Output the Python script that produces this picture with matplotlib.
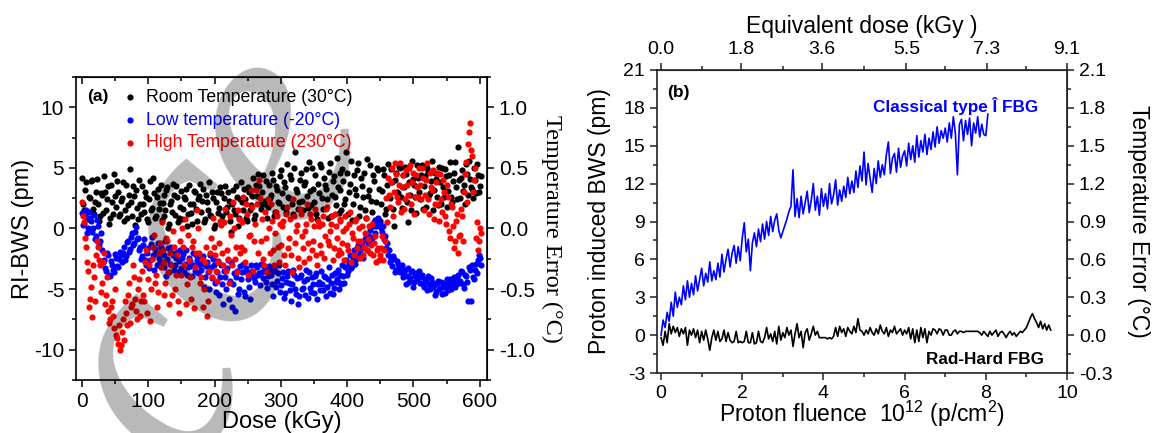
import numpy as np
import matplotlib
matplotlib.use("Agg")
import matplotlib.pyplot as plt
from matplotlib.ticker import MultipleLocator, FixedLocator, FormatStrFormatter

plt.rcParams['font.family'] = ['Liberation Sans', 'DejaVu Sans']
plt.rcParams['axes.unicode_minus'] = False
plt.rcParams['mathtext.fontset'] = 'custom'
plt.rcParams['mathtext.rm'] = 'Liberation Sans'
plt.rcParams['mathtext.it'] = 'Liberation Sans:italic'

# ---- panel (a): RI-BWS vs dose, two interleaved read-outs every 3 kGy ----
dose_step = 3
room_bws = [
    4.2, 1.5, 3.8, 0.8, 2.5, 4.0, 1.2, 3.0, 2.0, 1.0,
    2.8, 4.3, 1.5, 3.5, 0.9, 2.2, 4.5, 1.8, 3.0, 1.2,
    2.5, 0.6, 3.6, 1.9, 4.9, 1.0, 2.7, 3.2, 0.8, 2.0,
    3.5, 1.4, 2.6, 0.5, 3.9, 1.7, 2.9, 1.0, 3.3, 2.1,
    0.7, 2.8, 1.5, 3.4, 0.4, 2.3, 3.7, 1.1, 2.6, 0.9,
    3.1, 1.6, 2.4, 0.2, 3.6, 1.3, 2.0, 3.0, 0.6, 2.7,
    1.4, 3.3, 0.8, 2.2, 3.8, 1.0, 2.5, 0.3, 3.0, 1.7,
    2.9, 0.5, 3.5, 1.8, 2.3, -0.3, 3.2, 1.2, 2.6, 0.9,
    3.8, 1.5, 2.4, 0.6, 3.0, 1.9, 4.2, 1.1, 2.7, 3.5,
    1.6, 4.4, 2.3, 0.9, 3.6, 2.8, 4.0, 1.4, 3.2, 2.1,
    4.8, 1.8, 3.4, 5.3, 2.5, 4.1, 1.2, 6.3, 3.0, 2.2,
    4.6, 1.5, 3.8, 2.7, 5.5, 1.9, 3.3, 4.4, 0.8, 2.9,
    5.1, 1.6, 3.6, 2.4, 4.7, 1.0, 3.9, 2.6, 5.8, 1.3,
    3.2, 4.9, 2.0, 6.3, 1.2, 3.7, 0.7, 4.4, 2.8, 5.4,
    1.8, 3.5, 4.6, 0.9, 2.7, 5.2, 1.4, 3.9, 2.2, 4.8,
    0.6, 3.1, 4.4, 1.6, 5.3, 2.5, 3.8, 0.2, 4.6, 2.9,
    5.0, 1.7, 3.4, 4.5, 0.5, 2.8, 5.6, 3.6, 1.3, 4.2,
    2.4, 5.2, 3.5, 1.8, 4.7, 2.9, 5.6, 3.2, 4.1, 1.9,
    3.8, 5.0, 2.6, 4.3, 3.1, 5.5, 2.2, 4.6, 3.4, 6.7,
    2.5, 4.8, 3.6, 5.3, 2.8, 4.1, 3.3, 5.0, 2.9, 4.4,
    3.5]
room_bws_b = [
    2.0, 3.2, 0.9, 2.6, 3.9, 1.6, 2.2, 4.1, 0.6, 2.9,
    1.3, 3.0, 2.4, 0.4, 3.6, 1.2, 2.7, 3.9, 1.0, 2.3,
    3.8, 1.5, 0.9, 2.8, 2.2, 3.5, 0.3, 1.7, 4.0, 1.2,
    2.0, 3.0, 0.8, 2.4, 1.5, 4.2, 0.9, 2.6, 1.6, 3.6,
    2.1, 1.0, 3.2, 0.0, 2.0, 1.4, 2.8, 3.5, 0.5, 1.8,
    0.8, 2.6, 3.3, 1.2, 2.0, 0.4, 3.1, 1.6, 2.4, 3.7,
    2.3, 0.5, 2.8, 1.5, 1.1, 3.0, 0.0, 2.2, 1.3, 3.4,
    1.0, 2.5, 1.4, 3.0, 0.6, 2.0, 1.5, 3.5, 0.2, 2.4,
    2.2, 3.3, 0.9, 3.4, 1.5, 2.7, 0.8, 3.6, 4.5, 2.0,
    3.0, 2.0, 3.9, 1.8, 2.5, 4.6, 1.0, 3.5, 2.2, 4.3,
    2.9, 3.8, 1.4, 2.6, 4.4, 2.0, 5.0, 3.3, 1.6, 4.0,
    2.3, 3.6, 4.9, 1.7, 3.1, 5.0, 2.2, 1.2, 3.7, 5.3,
    2.5, 4.2, 3.3, 0.9, 5.4, 2.8, 4.3, 1.9, 3.4, 4.6,
    1.5, 3.9, 2.4, 4.6, 3.0, 5.6, 2.0, 3.3, 4.8, 1.0,
    4.2, 2.6, 1.5, 5.7, 3.2, 2.3, 4.4, 0.7, 5.0, 3.3,
    2.0, 4.9, 1.2, 3.6, 2.6, 4.9, 1.6, 4.0, 3.0, 5.1,
    2.6, 4.4, 5.1, 2.2, 3.8, 1.5, 4.1, 2.6, 5.2, 3.0,
    4.4, 1.6, 4.3, 5.0, 2.8, 3.9, 1.5, 4.6, 2.6, 5.1,
    2.0, 3.4, 4.9, 1.8, 4.4, 2.6, 3.9, 5.5, 2.4, 4.0,
    4.2, 3.1, 2.0, 4.5, 5.6, 3.4, 2.5, 4.0, 5.3, 3.0,
    4.3]
low_bws = [
    1.3, 0.4, 1.5, 0.0, 0.9, -0.3, 1.1, -0.6, 0.2, -1.0,
    -1.8, -2.6, -3.5, -2.2, -3.9, -3.0, -3.6, -2.4, -3.2, -1.9,
    -2.8, -1.5, -2.3, -1.0, -1.7, -0.4, -1.2, 0.1, -0.8, -1.5,
    -2.3, -0.9, -3.0, -1.6, -2.6, -0.7, -3.4, -2.0, -1.2, -2.8,
    -1.8, -3.2, -1.0, -2.5, -3.6, -1.5, -2.2, -3.0, -1.9, -2.7,
    -3.3, -2.1, -2.9, -3.8, -2.4, -3.1, -2.0, -3.5, -2.6, -3.0,
    -3.4, -2.3, -4.0, -2.8, -5.0, -3.2, -2.5, -4.5, -3.6, -5.5,
    -3.0, -6.2, -4.0, -3.3, -5.8, -2.8, -4.6, -6.8, -3.5, -5.0,
    -4.2, -2.9, -5.6, -3.6, -4.8, -3.0, -3.8, -4.4, -3.2, -3.7,
    -2.9, -4.1, -3.4, -4.9, -3.1, -3.8, -5.6, -3.5, -4.3, -3.0,
    -4.7, -3.6, -5.3, -3.9, -4.5, -6.0, -3.4, -5.0, -4.1, -5.6,
    -3.8, -4.9, -5.5, -4.2, -3.6, -5.2, -4.6, -3.9, -5.8, -4.4,
    -3.5, -5.1, -4.0, -4.8, -3.2, -4.5, -5.4, -3.7, -4.2, -5.0,
    -3.8, -3.0, -4.5, -2.6, -3.5, -2.2, -3.1, -1.8, -2.5, -1.4,
    -2.0, -1.1, -1.6, -0.5, -1.2, -0.1, -0.8, 0.5, 0.2, 0.9,
    0.4, -0.3, -0.9, -1.6, -2.2, -2.8, -3.1, -2.5, -3.4, -2.9,
    -3.6, -3.0, -3.8, -4.6, -3.3, -4.1, -3.5, -4.4, -3.7, -4.0,
    -4.5, -3.8, -4.8, -4.2, -3.9, -5.0, -4.4, -4.7, -5.2, -4.3,
    -4.9, -5.4, -4.5, -4.8, -5.1, -4.2, -4.7, -4.0, -4.6, -3.8,
    -4.3, -3.6, -4.9, -3.9, -6.0, -3.4, -3.0, -4.2, -2.9, -2.6,
    -2.4]
low_bws_b = [
    0.3, 1.0, -0.4, 1.4, 0.6, 0.0, -0.9, 0.7, -1.4, -0.4,
    -2.8, -3.3, -2.0, -3.8, -2.7, -3.4, -2.1, -3.1, -2.5, -2.2,
    -2.0, -2.6, -1.1, -1.9, -0.7, -1.4, -0.3, -0.9, -1.8, -2.5,
    -1.4, -2.6, -2.0, -3.3, -1.3, -2.2, -1.7, -3.0, -2.4, -1.5,
    -2.8, -2.2, -3.9, -1.6, -2.9, -2.0, -3.4, -2.4, -3.6, -1.8,
    -2.4, -3.6, -1.8, -3.2, -2.7, -3.9, -3.0, -2.2, -3.7, -2.5,
    -2.9, -4.8, -3.1, -3.6, -2.2, -4.1, -3.0, -5.2, -2.7, -4.0,
    -4.6, -3.5, -5.0, -2.6, -4.3, -6.5, -3.7, -4.0, -5.4, -3.1,
    -3.6, -5.2, -3.3, -4.2, -5.8, -3.5, -4.1, -3.0, -3.8, -4.7,
    -3.6, -3.2, -4.4, -3.9, -3.4, -4.6, -3.2, -4.8, -3.7, -5.2,
    -4.1, -5.7, -4.4, -3.5, -5.1, -4.6, -3.8, -5.4, -6.2, -4.0,
    -5.0, -4.3, -3.4, -5.7, -4.9, -4.0, -5.3, -3.7, -4.6, -5.1,
    -4.6, -3.9, -5.6, -4.2, -5.3, -3.8, -4.9, -4.4, -3.4, -4.5,
    -4.6, -3.9, -3.2, -3.8, -2.9, -3.3, -2.4, -2.9, -1.6, -2.2,
    -1.5, -2.4, -0.9, -1.8, -0.6, -1.0, 0.2, -0.4, 0.8, 0.4,
    0.0, 0.2, -0.6, -1.2, -1.8, -2.5, -2.3, -3.6, -2.7, -3.2,
    -3.2, -4.0, -3.4, -3.9, -4.4, -3.6, -4.8, -3.9, -4.2, -3.5,
    -4.0, -4.6, -4.3, -5.1, -4.6, -4.1, -4.8, -5.5, -4.5, -5.0,
    -4.4, -4.8, -5.3, -4.2, -4.6, -5.0, -4.3, -4.8, -4.1, -4.5,
    -3.5, -4.6, -3.8, -4.4, -3.2, -6.0, -4.0, -3.4, -3.7, -2.2,
    -3.0]
high_bws = [
    2.2, 0.5, -1.5, -3.5, -5.8, -7.3, -4.0, -2.2, -1.5, -3.0,
    -4.5, -2.0, -5.5, -6.8, -7.5, -6.0, -8.2, -8.8, -9.5, -10.0,
    -8.5, -9.2, -7.0, -5.5, -7.8, -6.2, -4.0, -6.8, -5.0, -7.2,
    -3.5, -6.0, -1.8, -4.2, -7.6, -2.5, -0.5, -3.8, -5.2, -1.2,
    0.5, -2.8, -4.5, -1.0, -6.2, -3.0, -0.2, -5.0, -2.2, -7.0,
    -3.8, -1.5, 0.8, -4.6, -2.6, -5.8, -1.0, -3.2, 1.5, -2.0,
    -4.0, -6.5, -2.8, -7.2, -3.5, -0.8, 0.9, -2.2, -4.3, -1.2,
    0.3, -3.0, 1.6, -1.8, -4.5, -0.5, 2.2, -2.5, -3.6, 0.8,
    -1.5, 2.6, -2.8, 1.2, -0.6, 3.2, -3.5, 0.4, 2.0, 4.0,
    -1.0, -2.5, 1.4, -3.6, 0.0, 2.0, -1.8, -0.4, 1.0, -2.8,
    -1.4, 0.6, -3.0, 1.8, -0.8, -2.2, 2.4, -1.2, 0.3, -3.2,
    1.2, -1.6, -0.2, 2.0, -2.4, 0.8, -1.0, 1.6, -3.0, 0.2,
    -2.0, 1.0, -0.6, 1.8, -1.4, 0.4, -2.6, 1.2, -0.8, -1.8,
    0.6, -1.2, -2.6, 0.0, -1.8, 1.4, -0.4, -2.2, 0.8, -1.0,
    -2.4, 0.2, -1.5, 0.9, -0.9, -2.0, 0.4, -1.2, -2.8, -1.6,
    -2.2, -0.6, -1.8, 2.5, 4.2, 1.8, 5.0, 3.0, 4.5, 2.2,
    5.4, 3.4, 1.6, 4.8, 2.8, 5.2, 3.8, 1.2, 4.4, 2.6,
    3.6, 5.0, 1.5, 4.0, 2.4, 4.6, 3.2, 0.8, 3.8, 2.0,
    4.5, 1.4, 3.0, 0.4, 2.6, -0.8, 1.8, -1.6, 0.6, -2.0,
    -0.5, 1.0, 3.0, 5.5, 7.0, 8.7, 6.0, 4.0, -0.8, -1.8,
    0.0]
high_bws_b = [
    1.0, -0.8, -2.8, -6.5, -4.8, -3.0, -6.0, -1.0, -2.6, -5.2,
    -2.8, -6.2, -4.0, -7.8, -6.5, -7.2, -5.0, -9.0, -8.0, -9.6,
    -7.5, -6.0, -8.0, -4.5, -6.5, -3.0, -5.8, -7.5, -4.2, -6.0,
    -5.5, -2.8, -7.0, -3.0, -5.0, -1.5, -4.5, -6.5, -2.0, -3.2,
    -1.8, -5.5, -0.8, -3.6, -2.0, -5.5, -1.5, -3.8, -6.0, -1.0,
    0.0, -3.0, -6.2, -0.5, -4.0, -1.5, -6.6, -2.0, 0.0, -4.5,
    -2.5, -5.0, -1.5, -6.0, -2.0, -4.0, -1.5, -3.5, -2.8, 0.6,
    -2.0, 0.5, -3.5, -2.5, 1.0, -3.0, 0.0, -1.5, 1.5, -2.0,
    0.5, -1.8, 2.0, -3.8, -0.5, 1.8, -1.0, 3.2, -2.0, 2.5,
    0.8, -3.0, -0.8, 2.4, -2.0, 0.6, -3.0, 1.4, -1.5, 0.4,
    0.2, -2.2, 1.2, -1.6, 0.8, -3.6, 1.0, -0.2, -2.4, 1.6,
    -0.6, -2.8, 0.4, -1.2, 1.2, -1.8, 0.2, -2.2, 0.6, -1.4,
    0.4, -2.4, 1.6, -1.0, -0.2, 1.0, -1.6, 0.2, -2.2, 0.8,
    -2.0, -0.2, 1.0, -1.4, 0.4, -2.8, -0.8, 0.6, -1.6, 0.0,
    -1.0, -2.2, -0.4, -1.8, 0.2, -1.4, -2.2, -0.6, -1.8, -2.6,
    -1.6, -2.6, -1.0, 0.5, 2.8, 3.8, 1.0, 5.4, 2.6, 3.6,
    1.4, 4.4, 2.4, 3.6, 5.0, 2.0, 4.6, 2.6, 3.4, 5.0,
    2.4, 4.2, 2.8, 5.4, 1.2, 3.4, 4.8, 2.0, 4.6, 0.6,
    2.4, 4.0, 1.0, 3.6, -0.2, 2.0, 0.2, -1.0, 1.2, -0.6,
    1.6, -1.0, 4.5, 2.2, 8.0, 6.5, 3.0, 5.0, 0.5, -1.0,
    -0.4]
dose = np.arange(len(room_bws)) * dose_step
dose_b = dose + dose_step / 2

# ---- panel (b): proton induced BWS vs fluence (1e12 p/cm2), step 0.05 ----
fluence_step = 0.05
classical_bws = [
    0.0, 1.2, 0.6, 1.8, 1.1, 2.6, 1.5, 3.4, 2.2, 3.0,
    2.4, 3.9, 2.8, 4.3, 3.0, 4.1, 3.2, 4.7, 3.5, 4.4,
    5.3, 3.9, 4.9, 4.2, 5.8, 4.3, 5.1, 4.4, 5.7, 4.6,
    6.4, 5.0, 6.0, 6.8, 5.4, 6.5, 7.1, 5.7, 7.0, 5.9,
    7.7, 8.9, 6.6, 7.6, 5.1, 7.3, 8.1, 7.0, 8.4, 7.4,
    8.8, 7.6, 9.0, 7.9, 9.4, 8.2, 9.1, 9.6, 8.3, 7.7,
    8.2, 8.7, 9.2, 9.8, 10.2, 13.1, 9.4, 10.8, 9.3, 11.0,
    9.6, 10.5, 11.4, 9.7, 10.7, 12.0, 9.9, 11.0, 9.5, 11.6,
    10.2, 11.2, 10.0, 12.0, 10.4, 11.1, 12.3, 10.3, 11.5, 10.6,
    11.8, 10.9, 12.5, 11.2, 12.2, 11.3, 13.0, 11.7, 13.4, 12.2,
    14.5, 11.9, 13.6, 12.4, 11.3, 13.2, 12.0, 13.8, 12.5, 13.5,
    12.7, 14.3, 15.3, 12.8, 14.0, 14.4, 12.9, 14.8, 13.3, 14.2,
    14.6, 13.4, 15.2, 13.9, 15.0, 13.7, 15.8, 14.1, 15.4, 14.5,
    15.9, 14.3, 15.6, 14.7, 16.1, 14.9, 16.5, 15.2, 16.2, 15.6,
    16.4, 15.3, 16.8, 15.6, 17.3, 16.0, 12.7, 16.7, 17.1, 15.4,
    17.0, 15.9, 17.2, 15.0, 16.8, 16.0, 17.3, 15.7, 16.7, 15.9,
    15.8, 17.5]
radhard_bws = [
    -0.2, -0.8, 0.3, -0.6, 0.9, 0.1, 0.7, 0.2, 0.6, -0.1,
    0.5, 0.1, 0.6, -0.8, 0.4, 0.0, 0.5, -0.2, 0.4, -0.6,
    0.3, -0.4, 0.4, -0.3, -1.2, -0.2, 0.4, -0.4, 0.3, -0.5,
    -0.3, 0.4, -0.5, 0.2, -0.4, -0.6, -0.5, 0.3, -0.6, -0.5,
    -0.6, -0.5, 0.3, -0.6, -0.6, 0.2, -0.7, -0.6, 0.3, -0.5,
    -0.6, -0.2, 0.6, -0.3, 0.1, -0.5, 0.3, -0.7, 0.7, -0.4,
    0.2, -0.2, 0.6, 0.0, 0.4, -0.9, 0.1, 0.9, -0.2, 0.3,
    -1.0, 0.2, 0.5, -0.4, 0.1, 0.7, 0.0, 0.3, -0.2, -0.2,
    -0.2, -0.2, -0.3, -0.2, -0.3, -0.1, 0.6, -0.1, 0.7, 0.2,
    0.5, -0.1, 0.6, 0.3, 0.1, 0.7, 0.2, 1.3, 0.4, 0.3,
    0.0, 0.4, 0.1, 0.6, 0.2, 0.0, 0.5, 0.1, 0.8, 0.3,
    0.1, 0.6, -0.1, 0.4, 0.2, 0.7, 0.1, 0.3, 0.5, 0.0,
    0.4, 0.1, 0.6, -0.3, 0.5, -0.6, 0.4, -0.5, 0.6, -0.2,
    0.5, -0.6, 0.3, 0.0, 0.5, 0.4, 0.1, 0.5, 0.4, 0.0,
    0.4, 0.4, 0.0, 0.0, 0.3, 0.4, 0.1, 0.3, 0.3, 0.2,
    0.3, 0.3, 0.3, 0.3, 0.3, 0.3, 0.3, 0.2, 0.0, 0.3,
    0.1, -0.1, 0.3, 0.0, 0.2, 0.4, -0.1, 0.2, 0.3, 0.1,
    -0.2, 0.1, 0.3, 0.0, 0.2, -0.1, 0.1, 0.3, 0.2, 0.4,
    0.6, 1.0, 1.4, 1.7, 1.3, 1.0, 0.6, 1.1, 0.5, 0.9,
    0.4, 0.8, 0.4]
fluence_classical = np.arange(len(classical_bws)) * fluence_step
fluence_radhard = np.arange(len(radhard_bws)) * fluence_step
kgy_per_fluence = 0.91
top_ticks = [0.0, 1.8, 3.6, 5.5, 7.3, 9.1]

W, H = 1160, 433
fig = plt.figure(figsize=(W / 100, H / 100), dpi=100)

def px_box(x0, y0, x1, y1):
    return [x0 / W, 1 - y1 / H, (x1 - x0) / W, (y1 - y0) / H]

spine_col = '#222222'
dot = 20

# ================= (a) =================
ax = fig.add_axes(px_box(76, 77, 487, 380))
ax.scatter(dose, room_bws, s=dot, color='black', lw=0, label='Room Temperature (30°C)')
ax.scatter(dose_b, room_bws_b, s=dot, color='black', lw=0)
ax.scatter(dose, low_bws, s=dot, color='#0000ff', lw=0, label='Low temperature (-20°C)')
ax.scatter(dose_b, low_bws_b, s=dot, color='#0000ff', lw=0)
ax.scatter(dose, high_bws, s=dot, color='#ff0000', lw=0, label='High Temperature (230°C)')
ax.scatter(dose_b, high_bws_b, s=dot, color='#ff0000', lw=0)
ax.set_xlim(-9, 611)
ax.set_ylim(-12.5, 12.5)
ax.xaxis.set_major_locator(MultipleLocator(100))
ax.xaxis.set_minor_locator(MultipleLocator(50))
ax.yaxis.set_major_locator(MultipleLocator(5))
ax.yaxis.set_minor_locator(MultipleLocator(2.5))
ax.tick_params(which='both', direction='out', labelsize=15, width=1.1, right=False, top=False)
ax.tick_params(which='major', length=5)
ax.tick_params(which='minor', length=3)
ax.set_xlabel('Dose (kGy)', fontsize=17, labelpad=0)
ax.set_ylabel('RI-BWS (pm)', fontsize=17, labelpad=0)
for sp in ax.spines.values():
    sp.set_linewidth(1.2)

topa = ax.secondary_xaxis('top')
topa.xaxis.set_major_locator(MultipleLocator(100))
topa.xaxis.set_minor_locator(MultipleLocator(50))
topa.tick_params(which='both', direction='in', labeltop=False, width=1.1)
topa.tick_params(which='major', length=5)
topa.tick_params(which='minor', length=3)

righta = ax.secondary_yaxis('right', functions=(lambda v: v / 10, lambda v: v * 10))
righta.yaxis.set_major_locator(MultipleLocator(0.5))
righta.yaxis.set_minor_locator(MultipleLocator(0.25))
righta.yaxis.set_major_formatter(FormatStrFormatter('%.1f'))
righta.tick_params(which='both', direction='out', labelsize=15, width=1.1)
righta.tick_params(which='major', length=5)
righta.tick_params(which='minor', length=3)
righta.set_ylabel('Temperature Error (°C)', fontsize=17.5, family='Liberation Serif',
                  rotation=270, labelpad=20)

ax.text(0.027, 0.935, '(a)', transform=ax.transAxes, fontsize=12.5, fontweight='bold',
        va='center')
leg = ax.legend(loc='upper left', bbox_to_anchor=(0.115, 0.96), frameon=False,
                fontsize=12.7, handlelength=0.8, handletextpad=0.5, labelspacing=0.32,
                borderaxespad=0, borderpad=0, scatterpoints=1, markerscale=1.0)
for txt, col in zip(leg.get_texts(), ['black', '#0000ff', '#ff0000']):
    txt.set_color(col)

# ================= (b) =================
bx = fig.add_axes(px_box(657, 70, 1067, 373))
bx.plot(fluence_classical, classical_bws, color='#0000ff', lw=1.2)
bx.plot(fluence_radhard, radhard_bws, color='black', lw=1.2)
bx.set_xlim(-0.1, 10)
bx.set_ylim(-3, 21)
bx.xaxis.set_major_locator(MultipleLocator(2))
bx.xaxis.set_minor_locator(MultipleLocator(1))
bx.yaxis.set_major_locator(MultipleLocator(3))
bx.yaxis.set_minor_locator(MultipleLocator(1.5))
bx.tick_params(which='both', direction='out', labelsize=14, width=1.1, colors=spine_col,
               labelcolor='black')
bx.tick_params(which='major', length=5)
bx.tick_params(which='minor', length=3)
for sp in bx.spines.values():
    sp.set_linewidth(1.2)
    sp.set_color(spine_col)
bx.set_ylabel('Proton induced BWS (pm)', fontsize=16.5, labelpad=9)
bx.set_xlabel('Proton fluence  10$^{12}$ (p/cm$^{2}$)', fontsize=16.5, labelpad=-2)

topb = bx.secondary_xaxis('top', functions=(lambda v: v * kgy_per_fluence,
                                            lambda v: v / kgy_per_fluence))
topb.xaxis.set_major_locator(FixedLocator(top_ticks))
topb.xaxis.set_minor_locator(FixedLocator([v * kgy_per_fluence for v in [1, 3, 5, 7, 9]]))
topb.xaxis.set_major_formatter(FormatStrFormatter('%.1f'))
topb.tick_params(which='both', direction='out', labelsize=14, width=1.1, colors=spine_col,
                 labelcolor='black')
topb.tick_params(which='major', length=5)
topb.tick_params(which='minor', length=3)
topb.spines['top'].set_color(spine_col)
topb.set_xlabel('Equivalent dose (kGy )', fontsize=16.5, labelpad=6)

rightb = bx.secondary_yaxis('right', functions=(lambda v: v / 10, lambda v: v * 10))
rightb.yaxis.set_major_locator(MultipleLocator(0.3))
rightb.yaxis.set_minor_locator(MultipleLocator(0.15))
rightb.yaxis.set_major_formatter(FormatStrFormatter('%.1f'))
rightb.tick_params(which='both', direction='out', labelsize=14, width=1.1, colors=spine_col,
                   labelcolor='black')
rightb.tick_params(which='major', length=5)
rightb.tick_params(which='minor', length=3)
rightb.spines['right'].set_color(spine_col)
rightb.set_ylabel('Temperature Error (°C)', fontsize=16.5, rotation=270, labelpad=27)

bx.text(0.025, 0.925, '(b)', transform=bx.transAxes, fontsize=12.5, fontweight='bold',
        va='center')
bx.text(0.93, 0.88, 'Classical type Î FBG', transform=bx.transAxes, fontsize=12.3,
        fontweight='bold', color='#0000ff', ha='right', va='center')
bx.text(0.945, 0.045, 'Rad-Hard FBG', transform=bx.transAxes, fontsize=12.3,
        fontweight='bold', color='black', ha='right', va='center')

# faint "Accepted" manuscript stamp running diagonally over panel (a)
stamp = [('A', -40, 580), ('c', 155, 375), ('c', 205, 240), ('e', 272, 138)]
for ch, xp, yp in stamp:
    fig.text(xp / W, 1 - yp / H, ch, rotation=60, ha='center', va='center',
             fontsize=225, family='Liberation Serif', style='italic',
             color='black', alpha=0.28, zorder=10)

fig.savefig('out.png', dpi=100)
